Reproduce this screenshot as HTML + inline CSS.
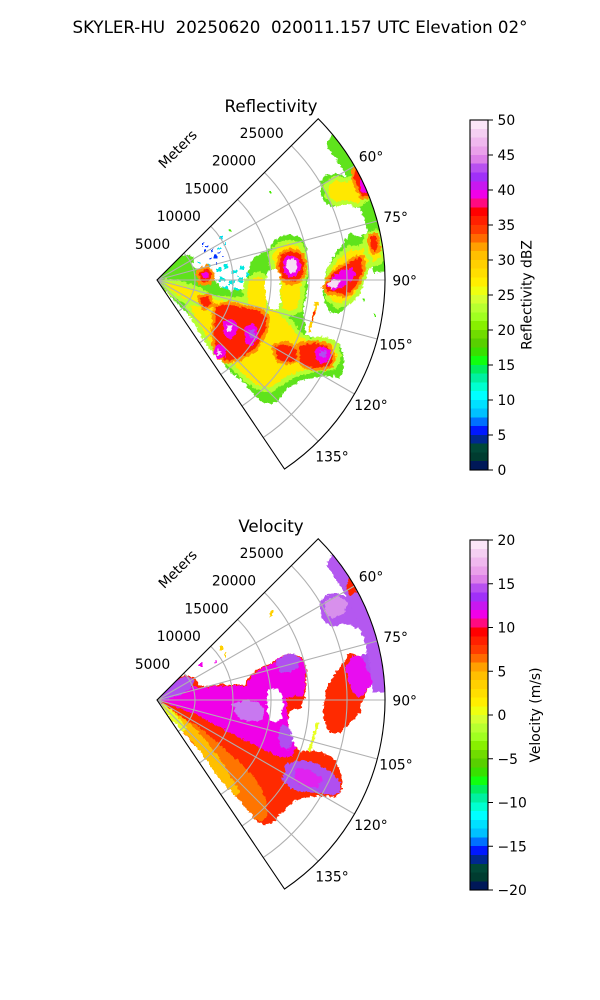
<!DOCTYPE html>
<html><head><meta charset="utf-8">
<style>
html,body{margin:0;padding:0;background:#fff;}
svg{display:block;}
text{font-family:"DejaVu Sans","Liberation Sans",sans-serif;fill:#000;}
</style></head>
<body>
<svg width="600" height="1000" viewBox="0 0 600 1000" xmlns="http://www.w3.org/2000/svg">
<defs>
<linearGradient id="cmap" x1="0" y1="0" x2="0" y2="1">
<stop offset="0" stop-color="#fbe6f8"/><stop offset="0.025" stop-color="#fbe6f8"/>
<stop offset="0.025" stop-color="#f5cff2"/><stop offset="0.05" stop-color="#f5cff2"/>
<stop offset="0.05" stop-color="#f0b8ee"/><stop offset="0.075" stop-color="#f0b8ee"/>
<stop offset="0.075" stop-color="#eaa0ea"/><stop offset="0.1" stop-color="#eaa0ea"/>
<stop offset="0.1" stop-color="#dd80e8"/><stop offset="0.125" stop-color="#dd80e8"/>
<stop offset="0.125" stop-color="#b850f0"/><stop offset="0.15" stop-color="#b850f0"/>
<stop offset="0.15" stop-color="#a030f8"/><stop offset="0.175" stop-color="#a030f8"/>
<stop offset="0.175" stop-color="#c818f0"/><stop offset="0.2" stop-color="#c818f0"/>
<stop offset="0.2" stop-color="#f000e8"/><stop offset="0.225" stop-color="#f000e8"/>
<stop offset="0.225" stop-color="#ff0a80"/><stop offset="0.25" stop-color="#ff0a80"/>
<stop offset="0.25" stop-color="#ff0000"/><stop offset="0.275" stop-color="#ff0000"/>
<stop offset="0.275" stop-color="#ff2000"/><stop offset="0.3" stop-color="#ff2000"/>
<stop offset="0.3" stop-color="#ff3c00"/><stop offset="0.325" stop-color="#ff3c00"/>
<stop offset="0.325" stop-color="#ff6a00"/><stop offset="0.35" stop-color="#ff6a00"/>
<stop offset="0.35" stop-color="#ffa000"/><stop offset="0.375" stop-color="#ffa000"/>
<stop offset="0.375" stop-color="#ffbf00"/><stop offset="0.4" stop-color="#ffbf00"/>
<stop offset="0.4" stop-color="#ffd000"/><stop offset="0.425" stop-color="#ffd000"/>
<stop offset="0.425" stop-color="#ffde00"/><stop offset="0.45" stop-color="#ffde00"/>
<stop offset="0.45" stop-color="#ffee00"/><stop offset="0.475" stop-color="#ffee00"/>
<stop offset="0.475" stop-color="#eeff10"/><stop offset="0.5" stop-color="#eeff10"/>
<stop offset="0.5" stop-color="#d6ff30"/><stop offset="0.525" stop-color="#d6ff30"/>
<stop offset="0.525" stop-color="#b8ff30"/><stop offset="0.55" stop-color="#b8ff30"/>
<stop offset="0.55" stop-color="#a0ff20"/><stop offset="0.575" stop-color="#a0ff20"/>
<stop offset="0.575" stop-color="#88f000"/><stop offset="0.6" stop-color="#88f000"/>
<stop offset="0.6" stop-color="#70dc00"/><stop offset="0.625" stop-color="#70dc00"/>
<stop offset="0.625" stop-color="#58d000"/><stop offset="0.65" stop-color="#58d000"/>
<stop offset="0.65" stop-color="#38e000"/><stop offset="0.675" stop-color="#38e000"/>
<stop offset="0.675" stop-color="#10ff10"/><stop offset="0.7" stop-color="#10ff10"/>
<stop offset="0.7" stop-color="#00ee60"/><stop offset="0.725" stop-color="#00ee60"/>
<stop offset="0.725" stop-color="#00f0a0"/><stop offset="0.75" stop-color="#00f0a0"/>
<stop offset="0.75" stop-color="#00ffd0"/><stop offset="0.775" stop-color="#00ffd0"/>
<stop offset="0.775" stop-color="#00ffff"/><stop offset="0.8" stop-color="#00ffff"/>
<stop offset="0.8" stop-color="#00e0ff"/><stop offset="0.825" stop-color="#00e0ff"/>
<stop offset="0.825" stop-color="#00c0ff"/><stop offset="0.85" stop-color="#00c0ff"/>
<stop offset="0.85" stop-color="#0070ff"/><stop offset="0.875" stop-color="#0070ff"/>
<stop offset="0.875" stop-color="#0018ff"/><stop offset="0.9" stop-color="#0018ff"/>
<stop offset="0.9" stop-color="#002890"/><stop offset="0.925" stop-color="#002890"/>
<stop offset="0.925" stop-color="#004838"/><stop offset="0.95" stop-color="#004838"/>
<stop offset="0.95" stop-color="#003c30"/><stop offset="0.975" stop-color="#003c30"/>
<stop offset="0.975" stop-color="#001858"/><stop offset="1" stop-color="#001858"/>
</linearGradient>
<clipPath id="sec1"><path d="M157,280 L318.22,118.78 A228,228 0 0 1 284.5,469.02 Z"/></clipPath>
<clipPath id="sec2"><path d="M157,700 L318.22,538.78 A228,228 0 0 1 284.5,889.02 Z"/></clipPath>
<filter id="rough" x="-5%" y="-5%" width="110%" height="110%">
<feTurbulence type="fractalNoise" baseFrequency="0.3" numOctaves="2" seed="4" result="n"/>
<feDisplacementMap in="SourceGraphic" in2="n" scale="5" xChannelSelector="R" yChannelSelector="G"/>
</filter>
</defs>

<rect width="600" height="1000" fill="#fff"/>

<text x="300" y="33" font-size="16.67" text-anchor="middle" style="white-space:pre">SKYLER-HU  20250620  020011.157 UTC Elevation 02°</text>

<!-- ================= PANEL 1: Reflectivity ================= -->
<text x="271" y="112" font-size="16.67" text-anchor="middle">Reflectivity</text>

<g clip-path="url(#sec1)">
<g filter="url(#rough)">
<!-- weak cyan/blue echoes -->
<g fill="#00e8e0">
<rect x="216" y="268" width="5" height="4"/><rect x="224" y="264" width="4" height="5"/><rect x="232" y="270" width="5" height="4"/>
<rect x="240" y="266" width="4" height="4"/><rect x="219" y="277" width="6" height="4"/><rect x="229" y="280" width="5" height="5"/>
<rect x="238" y="277" width="5" height="5"/><rect x="244" y="284" width="3" height="4"/><rect x="222" y="286" width="6" height="4"/>
<rect x="234" y="288" width="6" height="3"/><rect x="212" y="283" width="4" height="3"/><rect x="246" y="272" width="2" height="5"/>
</g>
<g fill="#0030ff">
<rect x="202" y="243" width="2" height="3"/><rect x="206" y="246" width="2" height="2"/><rect x="211" y="249" width="2" height="3"/>
<rect x="214" y="255" width="3" height="3"/><rect x="218" y="252" width="2" height="2"/><rect x="210" y="258" width="2" height="2"/>
<rect x="216" y="262" width="2" height="3"/><rect x="222" y="256" width="2" height="2"/><rect x="204" y="250" width="2" height="2"/>
</g>
<g fill="#00e0f0">
<rect x="220" y="236" width="3" height="3"/><rect x="224" y="242" width="2" height="4"/><rect x="218" y="247" width="3" height="2"/>
<rect x="207" y="264" width="4" height="3"/><rect x="198" y="262" width="3" height="2"/>
</g>
<g fill="#44e800">
<rect x="270" y="191" width="2" height="2"/><rect x="228" y="229" width="2" height="3"/><rect x="374" y="314" width="2" height="3"/>
<rect x="363" y="299" width="2" height="2"/><rect x="344" y="168" width="2" height="2"/>
</g>

<!-- green outer masses -->
<g fill="#5ee31a">
<path d="M157,280 L163,272 L170,264 L178,257 L188,254 L194,258 L192,266 L198,270 L206,268 L212,272 L214,280 L220,287 L232,291 L244,289 L248,276 L250,264 L256,256 L264,252 L270,248 L275,240 L282,236 L290,235 L298,236 L304,241 L307,250 L306,262 L308,275 L307,290 L305,302 L303,312 L305,325 L306,335 L315,338 L325,338 L333,341 L339,345 L343,352 L344,362 L343,372 L340,378 L330,376 L318,377 L305,379 L295,384 L287,389 L281,396 L276,402 L268,404 L260,401 L252,392 L243,382 L232,373 L222,362 L216,348 L208,336 L196,322 L184,310 L172,298 L163,289 Z"/>
<path d="M323,287 L326,270 L333,257 L343,243 L350,233 L360,237 L367,233 L372,230 L378,233 L382,243 L382,257 L373,263 L367,270 L362,283 L360,293 L350,303 L340,313 L330,313 L325,303 L323,293 Z"/>
<path d="M320,182 L327,175 L337,173 L346,177 L352,174 L356,168 L360,172 L366,183 L371,195 L374,206 L370,212 L362,210 L352,206 L343,204 L334,207 L326,204 L321,196 Z"/>
<path d="M334.7,130.9 L357.9,164 L375,200.7 L385.5,239.7 L388.9,271.9 L372.9,272.5 L369.7,242.5 L365.6,224.1 L360,206.1 L352.8,188.7 L344.1,172 L333.9,156.1 L326,145 Z"/>
</g>

<!-- yellow cores with yellow-green halo -->
<g fill="#ffe800" stroke="#b8ff30" stroke-width="9" stroke-linejoin="round" paint-order="stroke">
<path d="M187,300 L200,295 L215,300 L230,301 L240,302 L252,304 L264,305 L276,312 L284,318 L292,328 L297,335 L310,343 L323,341 L334,345 L337,356 L334,365 L314,368 L297,372 L284,378 L270,388 L257,385 L244,375 L234,365 L224,358 L214,348 L204,332 L194,315 Z"/>
<path d="M249,282 L258,276 L266,280 L267,296 L265,310 L255,312 L248,305 L247,292 Z"/>
<path d="M272,256 L278,248 L288,244 L298,246 L303,254 L304,268 L301,282 L300,296 L298,308 L290,312 L283,308 L281,294 L281,280 L276,270 Z"/>
<path d="M328,283 L332,268 L340,258 L350,250 L360,250 L368,246 L375,240 L379,248 L376,258 L366,265 L360,280 L356,292 L348,300 L338,304 L330,298 Z"/>
<path d="M328,186 L336,180 L346,183 L354,179 L360,174 L365,185 L367,196 L358,203 L346,200 L336,202 L329,195 Z"/>
<path d="M166,283 L180,285 L195,290 L205,296 L200,302 L186,299 L172,292 Z"/>
<path d="M368,238 L376,234 L380,244 L380,258 L374,262 L368,252 Z"/>
</g>

<!-- red cores with orange halo -->
<g fill="#ff2400" stroke="#ff9000" stroke-width="6" stroke-linejoin="round" paint-order="stroke">
<path d="M216,307 L228,304 L245,308 L260,311 L267,318 L265,330 L260,340 L255,349 L247,354 L238,358 L228,361 L220,357 L216,348 L214,335 L215,320 Z"/>
<path d="M300,345 L315,343 L328,346 L333,356 L330,366 L318,368 L305,366 L298,358 Z"/>
<path d="M281,255 L290,251 L299,253 L304,262 L303,275 L297,281 L288,282 L282,277 L279,266 Z"/>
<path d="M325,286 L333,274 L344,266 L352,261 L361,257 L363,268 L358,283 L350,292 L344,295 L336,292 L328,292 Z"/>
<path d="M355,170 L361,174 L366,184 L368,195 L363,197 L358,188 L354,178 Z"/>
<path d="M371,236 L376,236 L378,248 L374,252 L371,245 Z"/>
<path d="M200,298 L208,296 L211,304 L204,308 Z"/>
<path d="M274,347 L285,344 L296,349 L297,358 L289,362 L279,360 Z"/>
<path d="M199,272 L207,268 L212,274 L209,282 L201,282 Z"/>
</g>

<!-- magenta cores -->
<g fill="#f000e8">
<path d="M223,322 L231,319 L238,324 L236,334 L230,339 L224,336 Z"/>
<path d="M246,326 L254,323 L258,330 L257,340 L252,346 L246,344 L244,335 Z"/>
<path d="M215,346 L222,344 L227,350 L225,357 L218,359 L214,353 Z"/>
<path d="M315,349 L324,346 L331,351 L330,360 L322,364 L316,360 Z"/>
<path d="M284,257 L292,255 L299,259 L301,268 L297,276 L289,277 L284,272 L283,264 Z"/>
<path d="M327,285 L333,276 L342,270 L352,268 L356,274 L350,282 L342,287 L333,291 Z"/>
<path d="M360,179 L365,185 L367,193 L363,193 L360,186 Z"/>
<path d="M202,274 L206,271 L209,275 L207,279 L203,279 Z"/>
</g>
<g fill="#b050f0">
<path d="M249,330 L254,329 L255,337 L250,338 Z"/>
<path d="M320,350 L327,351 L326,358 L320,357 Z"/>
</g>
<!-- white / lavender cores -->
<g fill="#f6dcf4">
<path d="M287,260 L294,259 L298,264 L296,272 L290,273 L286,268 Z"/>
<path d="M328,283 L334,279 L340,280 L338,287 L331,289 Z"/>
<path d="M227,325 L232,325 L232,332 L227,332 Z"/>
<path d="M217,350 L222,350 L222,355 L217,355 Z"/>
</g>
<!-- hole -->
<path fill="#fff" d="M268,271 L276,268 L280,276 L280,290 L281,302 L277,309 L270,309 L266,298 L265,285 Z"/>
<!-- thin streak -->
<path d="M317,302 L309,332" stroke="#ffd000" stroke-width="3" fill="none"/>
<path d="M315,310 L312,320" stroke="#ff2000" stroke-width="2" fill="none"/>
</g>
</g>

<!-- grid panel 1 -->
<g fill="none" stroke="#b0b0b0" stroke-width="1.1">
<path d="M157,280 L354.45,166 M157,280 L377.23,220.99 M157,280 L385,280 M157,280 L377.23,339.01 M157,280 L354.45,394 M157,280 L318.22,441.22"/>
<path d="M183.87,253.13 A38,38 0 0 1 178.25,311.5 M210.74,226.26 A76,76 0 0 1 199.5,343.01 M237.61,199.39 A114,114 0 0 1 220.75,374.51 M264.48,172.52 A152,152 0 0 1 242,406.01 M291.35,145.65 A190,190 0 0 1 263.25,437.52"/>
</g>
<path d="M157,280 L318.22,118.78 A228,228 0 0 1 284.5,469.02 Z" fill="none" stroke="#000" stroke-width="1.1"/>

<g font-size="13.89" text-anchor="middle">
<text x="261.7" y="138">25000</text>
<text x="234" y="165.6">20000</text>
<text x="206.5" y="193.3">15000</text>
<text x="178.8" y="221.2">10000</text>
<text x="152.5" y="249">5000</text>
<text transform="translate(177.5,149) rotate(-45)" y="5">Meters</text>
<text x="371" y="161.7">60°</text>
<text x="395.7" y="222">75°</text>
<text x="404.7" y="285.5">90°</text>
<text x="396" y="349.3">105°</text>
<text x="371" y="410">120°</text>
<text x="332" y="461.5">135°</text>
</g>

<!-- colorbar 1 -->
<rect x="470" y="120" width="18" height="350" fill="url(#cmap)" stroke="#000" stroke-width="1.1"/>
<path d="M488,470h5M488,435h5M488,400h5M488,365h5M488,330h5M488,295h5M488,260h5M488,225h5M488,190h5M488,155h5M488,120h5" stroke="#000" stroke-width="1.1"/>
<g font-size="13.89">
<text x="497.5" y="475">0</text>
<text x="497.5" y="440">5</text>
<text x="497.5" y="405">10</text>
<text x="497.5" y="370">15</text>
<text x="497.5" y="335">20</text>
<text x="497.5" y="300">25</text>
<text x="497.5" y="265">30</text>
<text x="497.5" y="230">35</text>
<text x="497.5" y="195">40</text>
<text x="497.5" y="160">45</text>
<text x="497.5" y="125">50</text>
<text transform="translate(531.5,295) rotate(-90)" text-anchor="middle">Reflectivity dBZ</text>
</g>

<!-- ================= PANEL 2: Velocity ================= -->
<text x="271" y="532" font-size="16.67" text-anchor="middle">Velocity</text>

<g clip-path="url(#sec2)">
<g filter="url(#rough)">
<!-- specks -->
<g fill="#ffd000">
<rect x="270" y="610" width="3" height="6"/><rect x="220" y="646" width="3" height="4"/><rect x="224" y="652" width="2" height="5"/>
</g>
<g fill="#f000e8">
<rect x="200" y="663" width="3" height="4"/><rect x="215" y="660" width="2" height="3"/>
</g>
<!-- main mass base red -->
<path fill="#ff2a00" d="M157,700 L163,692 L170,684 L178,678 L188,675 L195,678 L200,686 L210,686 L220,684 L232,685 L244,685 L250,676 L256,670 L264,666 L270,664 L275,660 L282,656 L290,654 L298,655 L304,660 L307,670 L306,684 L305,698 L300,707 L290,711 L287,720 L289,732 L294,745 L300,752 L310,750 L322,752 L332,757 L338,765 L342,778 L342,792 L335,797 L322,796 L308,797 L296,800 L288,806 L281,814 L275,821 L266,825 L257,822 L248,810 L238,798 L226,786 L214,770 L203,754 L192,740 L180,728 L168,714 L160,704 Z"/>
<!-- orange / gold lower-left -->
<path fill="#ff7400" d="M168,712 L182,718 L198,726 L212,738 L228,752 L244,766 L258,782 L266,800 L268,815 L262,822 L256,820 L246,808 L236,796 L224,784 L213,769 L202,754 L190,740 L178,726 Z"/>
<path fill="#ffbf00" d="M160,704 L172,710 L186,720 L198,732 L210,746 L222,762 L232,778 L240,792 L236,796 L226,786 L214,771 L203,756 L192,741 L180,728 L168,715 Z"/>
<path fill="#e8ff20" d="M158,701 L168,707 L178,717 L187,728 L183,732 L174,722 L165,712 Z"/>
<!-- magenta upper band -->
<path fill="#f000e8" d="M160,700 L170,690 L185,685 L200,688 L215,686 L232,686 L246,686 L252,676 L262,668 L272,664 L280,657 L292,655 L302,659 L306,670 L305,684 L303,696 L296,698 L287,704 L287,722 L290,736 L296,748 L292,757 L280,757 L268,752 L255,745 L240,738 L225,730 L210,722 L195,714 L180,708 L168,704 Z"/>
<path fill="#ff2000" d="M286,698 L296,696 L304,700 L300,708 L290,710 Z"/>
<!-- purple patches -->
<g fill="#b050f0">
<path d="M157,700 L165,690 L175,681 L186,676 L194,679 L192,688 L182,694 L170,699 Z"/>
<path d="M276,662 L284,655 L294,654 L300,658 L298,668 L290,672 L280,672 Z"/>
<path d="M282,724 L290,728 L293,742 L288,750 L280,746 L278,735 Z"/>
</g>
<path fill="#c878f0" d="M232,704 L245,700 L258,702 L265,710 L262,720 L250,722 L238,718 Z"/>
<!-- SE lobe -->
<path fill="#b050f0" d="M286,764 L300,760 L312,762 L324,768 L334,774 L340,782 L341,793 L330,795 L316,793 L302,792 L290,788 L282,780 Z"/>
<path fill="#e020f0" d="M296,768 L310,770 L322,778 L318,788 L304,786 L294,780 Z"/>
<!-- east blob -->
<path fill="#ff2a00" d="M323,707 L326,690 L333,677 L343,663 L350,653 L360,657 L367,653 L372,650 L378,653 L382,663 L382,677 L373,683 L367,690 L362,703 L360,713 L350,723 L340,733 L330,733 L325,723 L323,713 Z"/>
<path fill="#e810f0" d="M345,668 L352,656 L362,656 L370,651 L378,652 L383,662 L383,680 L374,684 L366,690 L360,698 L352,692 L348,680 Z"/>
<path fill="#b050f0" d="M362,655 L372,650 L380,653 L383,665 L382,678 L372,676 L366,668 Z"/>
<!-- NE blob + arc strip -->
<g fill="#b458f0">
<path d="M320,602 L327,595 L337,593 L346,597 L352,594 L356,588 L360,592 L366,603 L371,615 L374,626 L370,632 L362,630 L352,626 L343,624 L334,627 L326,624 L321,616 Z"/>
<path d="M334.7,550.9 L357.9,584 L375,620.7 L385.5,659.7 L388.9,691.9 L372.9,692.5 L369.7,662.5 L365.6,644.1 L360,626.1 L352.8,608.7 L344.1,592 L333.9,576.1 L326,565 Z"/>
</g>
<path fill="#d890ec" d="M326,600 L338,596 L348,602 L344,614 L332,618 L324,612 Z"/>
<path fill="#ff2000" d="M348,578 L355,580 L357,592 L350,596 L346,588 Z"/>
<!-- hole -->
<path fill="#fff" d="M268,690 L276,688 L282,694 L283,706 L282,718 L276,722 L269,720 L267,706 Z"/>
<!-- streak -->
<path d="M318,722 L309,752" stroke="#e8ff20" stroke-width="3" fill="none"/>
</g>
</g>

<!-- grid panel 2 -->
<g transform="translate(0,420)">
<g fill="none" stroke="#b0b0b0" stroke-width="1.1">
<path d="M157,280 L354.45,166 M157,280 L377.23,220.99 M157,280 L385,280 M157,280 L377.23,339.01 M157,280 L354.45,394 M157,280 L318.22,441.22"/>
<path d="M183.87,253.13 A38,38 0 0 1 178.25,311.5 M210.74,226.26 A76,76 0 0 1 199.5,343.01 M237.61,199.39 A114,114 0 0 1 220.75,374.51 M264.48,172.52 A152,152 0 0 1 242,406.01 M291.35,145.65 A190,190 0 0 1 263.25,437.52"/>
</g>
<path d="M157,280 L318.22,118.78 A228,228 0 0 1 284.5,469.02 Z" fill="none" stroke="#000" stroke-width="1.1"/>
<g font-size="13.89" text-anchor="middle">
<text x="261.7" y="138">25000</text>
<text x="234" y="165.6">20000</text>
<text x="206.5" y="193.3">15000</text>
<text x="178.8" y="221.2">10000</text>
<text x="152.5" y="249">5000</text>
<text transform="translate(177.5,149) rotate(-45)" y="5">Meters</text>
<text x="371" y="161.7">60°</text>
<text x="395.7" y="222">75°</text>
<text x="404.7" y="285.5">90°</text>
<text x="396" y="349.3">105°</text>
<text x="371" y="410">120°</text>
<text x="332" y="461.5">135°</text>
</g>
</g>

<!-- colorbar 2 -->
<rect x="470" y="540" width="18" height="350" fill="url(#cmap)" stroke="#000" stroke-width="1.1"/>
<path d="M488,890h5M488,846.25h5M488,802.5h5M488,758.75h5M488,715h5M488,671.25h5M488,627.5h5M488,583.75h5M488,540h5" stroke="#000" stroke-width="1.1"/>
<g font-size="13.89">
<text x="497.5" y="895">−20</text>
<text x="497.5" y="851.25">−15</text>
<text x="497.5" y="807.5">−10</text>
<text x="497.5" y="763.75">−5</text>
<text x="497.5" y="720">0</text>
<text x="497.5" y="676.25">5</text>
<text x="497.5" y="632.5">10</text>
<text x="497.5" y="588.75">15</text>
<text x="497.5" y="545">20</text>
<text transform="translate(540,715) rotate(-90)" text-anchor="middle">Velocity (m/s)</text>
</g>
</svg>
</body></html>
